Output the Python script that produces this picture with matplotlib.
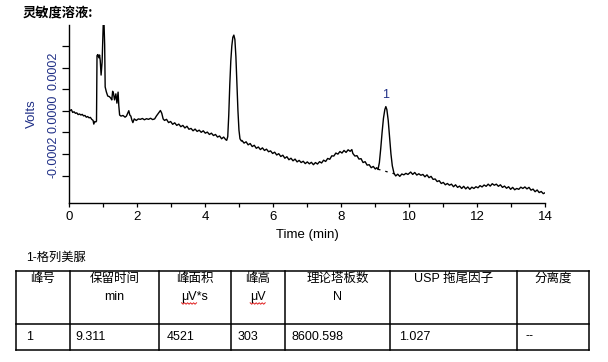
import numpy as np
import matplotlib
matplotlib.use('Agg')
import matplotlib.pyplot as plt
import matplotlib.transforms as mtransforms

plt.rcParams['font.family'] = ['Liberation Sans', 'Noto Sans CJK SC']

# ---------------- data ----------------
time_min = [
    0.02, 0.06, 0.10, 0.14, 0.18, 0.22, 0.26, 0.30, 0.34, 0.38, 0.42, 0.46, 0.50, 0.54, 0.58,
    0.62, 0.66, 0.70, 0.72, 0.75, 0.78, 0.80,
    0.815, 0.84, 0.87, 0.89, 0.91, 0.935, 0.965, 0.98, 1.00, 1.02, 1.04, 1.055, 1.09, 1.13,
    1.18, 1.22, 1.25, 1.275, 1.30, 1.33, 1.37, 1.40, 1.435, 1.455, 1.48, 1.52, 1.58, 1.64,
    1.68, 1.72, 1.75, 1.78, 1.81, 1.84, 1.87, 1.91, 1.97, 2.03, 2.09, 2.15, 2.21, 2.27, 2.33,
    2.39, 2.45, 2.51, 2.56, 2.62, 2.68,
    2.72, 2.76, 2.80, 2.86, 2.92, 2.98, 3.04, 3.10, 3.16, 3.22, 3.28, 3.34, 3.40, 3.46, 3.52,
    3.58, 3.64, 3.70, 3.76, 3.82, 3.88, 3.94, 4.00, 4.06, 4.12, 4.18, 4.24, 4.30, 4.36, 4.42,
    4.48, 4.54, 4.60, 4.63,
    4.66, 4.69, 4.72, 4.75, 4.78, 4.81, 4.84, 4.87, 4.90, 4.93, 4.96, 4.99, 5.02, 5.06,
    5.08, 5.14, 5.20, 5.26, 5.32, 5.38, 5.44, 5.50, 5.56, 5.62, 5.68, 5.74, 5.80, 5.86, 5.92,
    5.98, 6.04, 6.10, 6.16, 6.22, 6.28, 6.34, 6.40, 6.46, 6.52, 6.58, 6.64, 6.70, 6.76, 6.82,
    6.88, 6.94, 7.00, 7.06, 7.12, 7.18, 7.24, 7.30, 7.36, 7.42, 7.48, 7.54, 7.60, 7.66, 7.72,
    7.78, 7.84, 7.90, 7.96, 8.02, 8.08, 8.14, 8.20, 8.26, 8.31, 8.34, 8.40, 8.46, 8.52, 8.58,
    8.64, 8.70, 8.76, 8.82, 8.88, 8.94, 9.00, 9.04, 9.08,
    9.12, 9.16, 9.20, 9.24, 9.28, 9.31, 9.34, 9.38, 9.42, 9.46, 9.50, 9.55, 9.60, 9.66, 9.72,
    9.78, 9.84, 9.90, 9.96,
    10.04, 10.10, 10.16, 10.22, 10.28, 10.34, 10.40, 10.46, 10.52, 10.58, 10.64, 10.70, 10.76,
    10.82, 10.88, 10.94, 11.00, 11.06, 11.12, 11.18, 11.24, 11.30, 11.36, 11.42, 11.48, 11.54,
    11.60, 11.66, 11.72, 11.78, 11.84, 11.90, 11.96, 12.02, 12.08, 12.14, 12.20, 12.26, 12.32,
    12.38, 12.44, 12.50, 12.56, 12.62, 12.68, 12.74, 12.80, 12.86, 12.92, 12.98, 13.04, 13.10,
    13.16, 13.22, 13.28, 13.34, 13.40, 13.46, 13.52, 13.58, 13.64, 13.70, 13.76, 13.82, 13.88,
    13.94, 13.99,
]
# detector signal in units of 1e-4 V
signal_1e4V = [
    0.00, 0.05, -0.08, -0.05, -0.12, -0.10, -0.18, -0.15, -0.20, -0.17, -0.24, -0.22, -0.30, -0.27, -0.33,
    -0.31, -0.40, -0.45, -0.62, -0.50, -0.52, -0.48,
    2.55, 2.60, 2.45, 2.58, 2.32, 1.65, 2.25, 3.00, 4.10, 4.10, 3.05, 1.10, 0.87, 0.68,
    0.65, 0.58, 0.50, 0.90, 0.80, 0.50, 0.78, 0.35, 0.86, 0.25, -0.20, -0.25, -0.22, -0.30,
    -0.25, -0.10, 0.00, -0.20, -0.25, -0.43, -0.55, -0.38, -0.45, -0.38, -0.40, -0.36, -0.42, -0.37, -0.40,
    -0.35, -0.41, -0.38, -0.25, -0.12, 0.01,
    -0.12, -0.38, -0.45, -0.40, -0.55, -0.50, -0.63, -0.56, -0.68, -0.62, -0.74, -0.68, -0.80, -0.72, -0.86,
    -0.82, -0.93, -0.85, -0.96, -0.90, -1.00, -0.93, -1.04, -0.99, -1.10, -1.04, -1.15, -1.10, -1.22, -1.17,
    -1.30, -1.22, -1.34, -1.37,
    -1.20, -0.20, 1.20, 2.30, 3.00, 3.40, 3.50, 3.30, 2.50, 1.30, 0.00, -0.90, -1.30, -1.40,
    -1.38, -1.50, -1.44, -1.58, -1.52, -1.66, -1.60, -1.74, -1.68, -1.80, -1.72, -1.84, -1.78, -1.90, -1.86,
    -1.98, -1.92, -2.05, -1.99, -2.12, -2.06, -2.20, -2.13, -2.27, -2.20, -2.32, -2.24, -2.37, -2.30, -2.40,
    -2.34, -2.45, -2.37, -2.46, -2.39, -2.50, -2.40, -2.47, -2.36, -2.42, -2.29, -2.35, -2.21, -2.25, -2.09,
    -2.10, -1.96, -2.01, -1.89, -1.96, -1.84, -1.93, -1.81, -1.88, -1.80, -1.98, -2.10, -2.08, -2.24, -2.22,
    -2.40, -2.36, -2.52, -2.50, -2.64, -2.58, -2.70, -2.64, -2.72,
    -2.40, -1.75, -1.00, -0.35, 0.05, 0.19, 0.05, -0.45, -1.25, -2.00, -2.55, -2.90, -3.02, -2.94, -3.04,
    -2.93, -2.97, -2.90, -2.95,
    -2.84, -2.95, -2.86, -2.98, -2.92, -2.99, -2.95, -3.06, -2.97, -3.10, -3.04, -3.18, -3.16,
    -3.28, -3.24, -3.37, -3.32, -3.43, -3.37, -3.45, -3.40, -3.52, -3.43, -3.55, -3.49, -3.60,
    -3.50, -3.62, -3.53, -3.64, -3.54, -3.60, -3.52, -3.57, -3.47, -3.53, -3.44, -3.50, -3.40,
    -3.49, -3.38, -3.45, -3.40, -3.50, -3.43, -3.55, -3.49, -3.59, -3.52, -3.64, -3.55, -3.66,
    -3.60, -3.64, -3.54, -3.60, -3.53, -3.62, -3.55, -3.68, -3.63, -3.75, -3.67, -3.79, -3.74,
    -3.84, -3.80,
]
baseline_time = [9.08, 9.58]
baseline_1e4V = [-2.71, -2.93]
peak_name = "1"
peak_time = 9.31
peak_label_1e4V = 0.74

x_major = [0, 2, 4, 6, 8, 10, 12, 14]
x_minor = [1, 3, 5, 7, 9, 11, 13]
y_major_1e4V = [-2, 0, 2]
y_minor_1e4V = [-3, -1, 1, 3]

chart_title = "灵敏度溶液:"
x_title = "Time (min)"
y_title = "Volts"

table_caption = "1-格列美脲"
header_line1 = ["峰号", "保留时间", "峰面积", "峰高", "理论塔板数", "USP 拖尾因子", "分离度"]
header_line2 = ["", "min", "μV*s", "μV", "N", "", ""]
row_values = ["1", "9.311", "4521", "303", "8600.598", "1.027", "--"]

# ---------------- figure ----------------
W, H = 608, 362
fig = plt.figure(figsize=(W / 100, H / 100), dpi=100)
navy = '#1f2f86'

ax_l, ax_r, ax_t, ax_b = 69.3, 545.3, 25.0, 203.3
ax = fig.add_axes([ax_l / W, 1 - ax_b / H, (ax_r - ax_l) / W, (ax_b - ax_t) / H])
ax.plot(np.array(time_min), np.array(signal_1e4V) * 1e-4, color='black', lw=1.0)
ax.plot(baseline_time, np.array(baseline_1e4V) * 1e-4, color='black', lw=0.9,
        linestyle=(0, (2, 4)))
ax.text(peak_time, peak_label_1e4V * 1e-4, peak_name, ha='center', va='center',
        color=navy, fontsize=9)

ax.set_xlim(0, 14)
ax.set_ylim(-4.287e-4, 3.968e-4)
for s in ('top', 'right'):
    ax.spines[s].set_visible(False)
for s in ('left', 'bottom'):
    ax.spines[s].set_linewidth(1.0)

ax.set_xticks(x_major)
ax.set_xticklabels([str(v) for v in x_major])
ax.set_xticks(x_minor, minor=True)
ax.tick_params(axis='x', which='both', direction='out', length=2.6, width=0.9,
               labelsize=9.5, pad=3, colors='black')

ax.set_yticks([v * 1e-4 for v in y_major_1e4V])
ax.set_yticklabels([f"{v * 1e-4:.4f}" for v in y_major_1e4V])
ax.set_yticks([v * 1e-4 for v in y_minor_1e4V], minor=True)
ax.tick_params(axis='y', which='both', direction='out', length=5, width=0.9,
               labelsize=9, pad=2, labelcolor=navy)
for lab in ax.get_yticklabels():
    lab.set_rotation(90)
    lab.set_va('center')
    lab.set_transform(lab.get_transform() +
                      mtransforms.ScaledTranslation(0, -3 / 100, fig.dpi_scale_trans))

ax.set_xlabel(x_title, fontsize=9.5, labelpad=4)
fig.text(32 / W, 1 - 114 / H, y_title, rotation=90, ha='center', va='center',
         fontsize=9.5, color=navy)

fig.text(23 / W, 1 - 13 / H, chart_title, ha='left', va='center', fontsize=9.5,
         fontweight='bold', family=['Noto Sans CJK SC', 'DejaVu Sans'])

# ---------------- table ----------------
tab = fig.add_axes([0, 0, 1, 1], zorder=-1)
tab.set_xlim(0, W)
tab.set_ylim(H, 0)
tab.axis('off')

col_edges = [16, 70, 159, 231, 285, 390, 517, 589]
row_edges = [270.5, 323.5, 349.5]
for x in col_edges:
    tab.plot([x, x], [row_edges[0], row_edges[-1]], color='black', lw=1.1,
             solid_capstyle='projecting')
for y in row_edges:
    tab.plot([col_edges[0], col_edges[-1]], [y, y], color='black', lw=1.1,
             solid_capstyle='projecting')

tab.text(26, 258, table_caption, ha='left', va='center', fontsize=8.8)

fs_tab = 9
renderer = fig.canvas.get_renderer()
for i in range(len(header_line1)):
    cx = (col_edges[i] + col_edges[i + 1]) / 2
    tab.text(cx, 279, header_line1[i], ha='center', va='center', fontsize=fs_tab)
    if header_line2[i]:
        t2 = tab.text(cx, 297, header_line2[i], ha='center', va='center', fontsize=fs_tab)
        if header_line2[i].startswith("μV"):
            bb = t2.get_window_extent(renderer)
            tmp = tab.text(0, 0, "μV", fontsize=fs_tab)
            wmu = tmp.get_window_extent(renderer).width
            tmp.remove()
            x0 = bb.x0
            x1 = bb.x0 + wmu
            xs = np.arange(x0, x1 + 0.1, 1.5)
            ys = 303.5 + np.where(np.arange(len(xs)) % 2 == 0, -0.7, 0.7)
            tab.plot(xs, ys, color='#e02020', lw=0.7)

data_x = [26, 75, 167, 238, 292, 399, 525]
for x, val in zip(data_x, row_values):
    tab.text(x, 336.5, val, ha='left', va='center', fontsize=fs_tab)

fig.savefig('out.png', dpi=100)
